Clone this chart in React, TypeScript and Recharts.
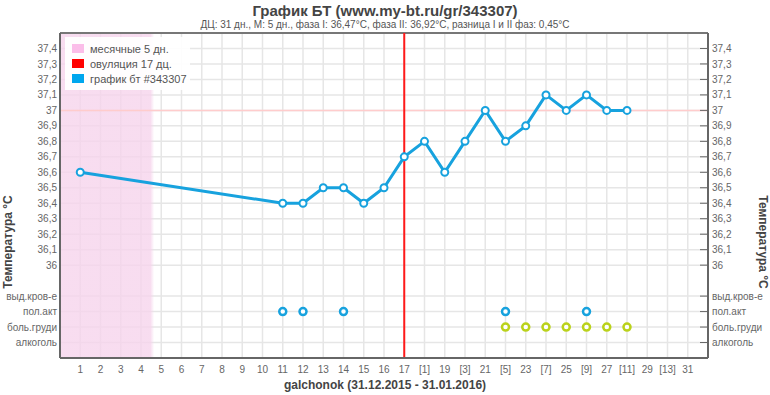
import React from "react";
import {
  ComposedChart, Line, Scatter, XAxis, YAxis, CartesianGrid,
  ReferenceLine, ReferenceArea, Legend, Customized,
} from "recharts";

// ── data ────────────────────────────────────────────────────────────────────
const days = Array.from({ length: 31 }, (_, i) => i + 1);
const ovulationDay = 17;

// x tick labels: after ovulation every second day shows [n] days past O
const dayLabels = [
  "1", "2", "3", "4", "5", "6", "7", "8", "9", "10", "11", "12", "13", "14", "15", "16",
  "17", "[1]", "19", "[3]", "21", "[5]", "23", "[7]", "25", "[9]", "27", "[11]", "29", "[13]", "31",
];

const tempDays = [1, 11, 12, 13, 14, 15, 16, 17, 18, 19, 20, 21, 22, 23, 24, 25, 26, 27, 28];
const tempValues = [36.6, 36.4, 36.4, 36.5, 36.5, 36.4, 36.5, 36.7, 36.8, 36.6, 36.8, 37.0, 36.8, 36.9, 37.1, 37.0, 37.1, 37.0, 37.0];

// event rows sit below the temperature scale
const sexDays = [11, 12, 14, 22, 26];
const breastDays = [22, 23, 24, 25, 26, 27, 28];

const yTicks = [35.5, 35.6, 35.7, 35.8, 36, 36.1, 36.2, 36.3, 36.4, 36.5, 36.6, 36.7, 36.8, 36.9, 37, 37.1, 37.2, 37.3, 37.4];
const rowNames: Record<number, string> = {
  358: "выд.кров-е",
  357: "пол.акт",
  356: "боль.груди",
  355: "алкоголь",
};
const ROW_SEX = 35.7;
const ROW_BREAST = 35.6;

const legendItems = [
  { label: "месячные 5 дн.", color: "#fbbde9" },
  { label: "овуляция 17 дц.", color: "#ff0000" },
  { label: "график бт #343307", color: "#00a6ee" },
];

const FONT = '"Liberation Sans", Arial, sans-serif';
const BLUE = "#17a2de";
const GREEN = "#bad21a";

const tempData = tempDays.map((d, i) => ({ day: d, t: tempValues[i] }));
const sexData = sexDays.map((d) => ({ day: d, t: ROW_SEX }));
const breastData = breastDays.map((d) => ({ day: d, t: ROW_BREAST }));

function fmtY(v: number) {
  const k = Math.round(v * 10);
  if (rowNames[k]) return rowNames[k];
  const s = (k / 10).toFixed(1);
  return (s.endsWith(".0") ? s.slice(0, -2) : s).replace(".", ",");
}

// right axis: short tick pointing into the plot, label to the right
function rightTick(p: any) {
  const { x, y, payload } = p;
  return (
    <g key={`rt-${payload.value}`}>
      <line x1={x - 12} x2={x - 4} y1={y} y2={y} stroke="#666" strokeWidth={1} />
      <text x={x} y={y} dy="0.355em" fontSize={10} fill="#666" fontFamily={FONT}>
        {fmtY(payload.value)}
      </text>
    </g>
  );
}

function Ring(color: string) {
  return (props: any) => (
    <circle cx={props.cx} cy={props.cy} r={3.5} fill="#fff" stroke={color} strokeWidth={2.5} />
  );
}

function LegendBox() {
  return (
    <div style={{ background: "rgba(255,255,255,0.92)", width: 125, padding: "4px 0", fontFamily: FONT }}>
      {legendItems.map((it) => (
        <div key={it.label} style={{ display: "flex", alignItems: "center", height: 15, paddingLeft: 7 }}>
          <span style={{ width: 12, height: 9, background: it.color, marginRight: 6 }} />
          <span style={{ fontSize: 11, color: "#555" }}>{it.label}</span>
        </div>
      ))}
    </div>
  );
}

function Titles() {
  return (
    <g fontFamily={FONT}>
      <text x={385} y={16} textAnchor="middle" fontSize={15} fontWeight="bold" fill="#444">
        График БТ (www.my-bt.ru/gr/343307)
      </text>
      <text x={385} y={28} textAnchor="middle" fontSize={10} fill="#555">
        ДЦ: 31 дн., М: 5 дн., фаза I: 36,47°C, фаза II: 36,92°C, разница I и II фаз: 0,45°C
      </text>
      <text x={385} y={389} textAnchor="middle" fontSize={12} fontWeight="bold" fill="#444">
        galchonok (31.12.2015 - 31.01.2016)
      </text>
      <text x={8} y={242} textAnchor="middle" dy="0.35em" fontSize={12} fontWeight="bold" fill="#444"
        transform="rotate(-90 8 242)">
        Температура °C
      </text>
      <text x={763} y={242} textAnchor="middle" dy="0.35em" fontSize={12} fontWeight="bold" fill="#444"
        transform="rotate(90 763 242)">
        Температура °C
      </text>
    </g>
  );
}

export default function App() {
  return (
    <div style={{ position: "absolute", left: 0, top: 0, width: 770, height: 395, background: "#fff" }}>
      <ComposedChart width={770} height={395} data={tempData}
        margin={{ top: 33, right: 0, bottom: 0, left: 0 }}>
        <defs>
          <linearGradient id="menses" x1="0" y1="0" x2="1" y2="0">
            <stop offset="0%" stopColor="#f6d4ec" stopOpacity={0.8} />
            <stop offset="96%" stopColor="#f6d4ec" stopOpacity={0.8} />
            <stop offset="100%" stopColor="#f6d4ec" stopOpacity={0} />
          </linearGradient>
        </defs>

        <CartesianGrid stroke="#e6e6e6" strokeWidth={1.5} />
        <ReferenceArea x1={0} x2={4.65} fill="url(#menses)" fillOpacity={1} stroke="none" ifOverflow="hidden" />

        <XAxis
          dataKey="day" type="number" domain={[0, 32]} ticks={days}
          height={37} interval={0}
          tickFormatter={(v) => dayLabels[v - 1] ?? ""}
          tick={{ fontSize: 10, fill: "#666", fontFamily: FONT }}
          tickLine={false} tickSize={6} tickMargin={2}
          axisLine={{ stroke: "#666", strokeWidth: 2 }}
        />
        <YAxis
          type="number" domain={[35.4, 37.5]} ticks={yTicks} interval={0} width={60}
          tickFormatter={fmtY}
          tick={{ fontSize: 10, fill: "#666", fontFamily: FONT }}
          tickLine={false} tickSize={0} tickMargin={3}
          axisLine={{ stroke: "#666", strokeWidth: 2 }}
        />
        <YAxis
          yAxisId="r" orientation="right" type="number" domain={[35.4, 37.5]}
          ticks={yTicks} interval={0} width={62}
          tick={rightTick}
          tickLine={false} tickSize={0} tickMargin={4}
          axisLine={{ stroke: "#666", strokeWidth: 2 }}
        />

        <ReferenceLine y={37.5} stroke="#777" strokeWidth={2} />
        <ReferenceLine y={37} stroke="#ffcccc" strokeWidth={1.5} />
        <ReferenceLine x={ovulationDay} stroke="#ff1a1a" strokeWidth={2} />

        <Legend
          layout="horizontal" verticalAlign="middle" align="center"
          wrapperStyle={{ top: 37, left: 65, width: "auto", height: "auto" }}
          content={<LegendBox />}
        />

        <Line
          dataKey="t" stroke={BLUE} strokeWidth={3}
          dot={{ r: 3.5, fill: "#fff", stroke: BLUE, strokeWidth: 2 }}
          activeDot={false} isAnimationActive={false} legendType="none"
        />
        <Scatter data={sexData} dataKey="t" shape={Ring(BLUE)} isAnimationActive={false} legendType="none" />
        <Scatter yAxisId="r" data={breastData} dataKey="t" shape={Ring(GREEN)} isAnimationActive={false} legendType="none" />

        <Customized component={<Titles />} />
      </ComposedChart>
    </div>
  );
}
